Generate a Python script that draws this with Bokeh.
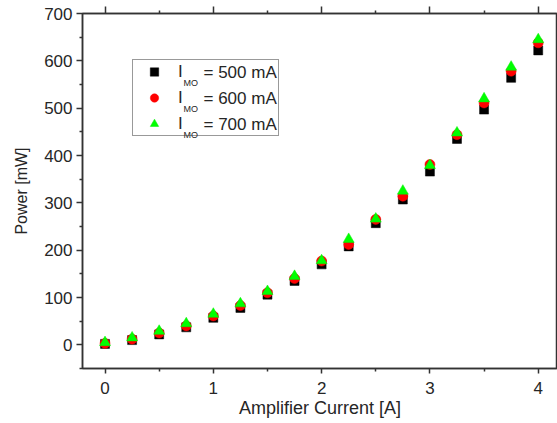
from bokeh.plotting import figure
from bokeh.models import Range1d, LinearAxis, Legend, LegendItem, Label, FixedTicker
from bokeh.embed import file_html
from bokeh.resources import INLINE

# ---- data ----
current = [0, 0.25, 0.5, 0.75, 1.0, 1.25, 1.5, 1.75, 2.0, 2.25, 2.5, 2.75, 3.0, 3.25, 3.5, 3.75, 4.0]
power_500 = [2, 10, 22, 37, 57, 78, 106, 135, 170, 208, 257, 307, 366, 435, 497, 564, 622]
power_600 = [3, 12, 25, 40, 61, 83, 110, 140, 177, 212, 265, 314, 381, 444, 511, 578, 638]
power_700 = [5, 15, 29, 45, 65, 87, 113, 145, 178, 223, 266, 325, 379, 448, 520, 587, 645]
series_values = ["500 mA", "600 mA", "700 mA"]
x_ticks = [0, 1, 2, 3, 4]
x_minor = [0.5, 1.5, 2.5, 3.5]
y_ticks = [0, 100, 200, 300, 400, 500, 600, 700]
y_minor = [-50, 50, 150, 250, 350, 450, 550, 650]

FONT = "Liberation Sans"
TXT = "#262626"
AX = "#333333"

p = figure(width=557, height=423, output_backend="svg", toolbar_location=None, title=None,
           x_range=Range1d(-0.208, 4.178), y_range=Range1d(-50, 700),
           min_border_left=82, min_border_right=0, min_border_top=13, min_border_bottom=55,
           background_fill_color="white", border_fill_color="white")
# frame outline gives the top edge line of the box
p.outline_line_color = AX
p.outline_line_width = 1.5
p.xgrid.visible = False
p.ygrid.visible = False

def style_axis(ax, ticks, minor):
    ax.ticker = FixedTicker(ticks=ticks, minor_ticks=minor)
    ax.axis_line_color = AX
    ax.axis_line_width = 1.5
    ax.major_tick_line_color = AX
    ax.major_tick_line_width = 1.5
    ax.minor_tick_line_color = AX
    ax.minor_tick_line_width = 1.5
    ax.major_tick_in = 0
    ax.minor_tick_in = 0
    ax.major_tick_out = 6
    ax.minor_tick_out = 3
    ax.major_label_text_font = FONT
    ax.major_label_text_font_size = "17px"
    ax.major_label_text_color = TXT
    ax.axis_label_text_font = FONT
    ax.axis_label_text_font_style = "normal"
    ax.axis_label_text_color = TXT

xa = p.xaxis[0]
style_axis(xa, x_ticks, x_minor)
xa.axis_label = "Amplifier Current [A]"
xa.axis_label_text_font_size = "18px"
xa.major_tick_out = 5
xa.minor_tick_out = 3
xa.major_label_standoff = 8
xa.axis_label_standoff = 1

ya = p.yaxis[0]
style_axis(ya, y_ticks, y_minor)
ya.axis_label = "Power [mW]"
ya.axis_label_text_font_size = "16px"
ya.major_label_standoff = 4
ya.axis_label_standoff = 11

# top axis: ticks only (labels not drawn)
top = LinearAxis(ticker=FixedTicker(ticks=x_ticks, minor_ticks=x_minor),
                 axis_line_color=AX, axis_line_width=1.5,
                 major_tick_line_color=AX, major_tick_line_width=1.5,
                 minor_tick_line_color=AX, minor_tick_line_width=1.5,
                 major_tick_in=0, minor_tick_in=0, major_tick_out=7, minor_tick_out=3,
                 major_label_text_color=None, major_label_text_font_size="17px",
                 major_label_standoff=0)
p.add_layout(top, "above")

r1 = p.scatter(current, power_500, marker="square", size=9, fill_color="black", line_color="black", line_width=0.5)
r2 = p.scatter(current, power_600, marker="circle", size=10, fill_color="red", line_color="red", line_width=0.5)
r3 = p.scatter(current, power_700, marker="triangle", size=11, fill_color="#00ff00", line_color="#00ee00", line_width=0.5)

legend = Legend(items=[LegendItem(label="I", renderers=[r]) for r in (r1, r2, r3)],
                location=(50, 232),
                padding=1, spacing=5, glyph_width=40, glyph_height=21, label_height=21,
                label_width=99, label_standoff=4, margin=0,
                border_line_color=AX, border_line_width=1,
                background_fill_color="white", background_fill_alpha=0,
                label_text_font=FONT, label_text_font_size="17px", label_text_color=TXT)
p.add_layout(legend)

row_y = [295.5, 269.5, 243.5]
for val, yy in zip(series_values, row_y):
    p.add_layout(Label(x=101, y=yy - 10, x_units="screen", y_units="screen", text="MO",
                       text_font=FONT, text_font_size="9px", text_color=TXT,
                       text_baseline="middle", level="overlay"))
    p.add_layout(Label(x=121, y=yy + 1, x_units="screen", y_units="screen", text="= " + val,
                       text_font=FONT, text_font_size="17px", text_color=TXT,
                       text_baseline="middle", level="overlay"))

open("out.html", "w").write(file_html(p, INLINE))
